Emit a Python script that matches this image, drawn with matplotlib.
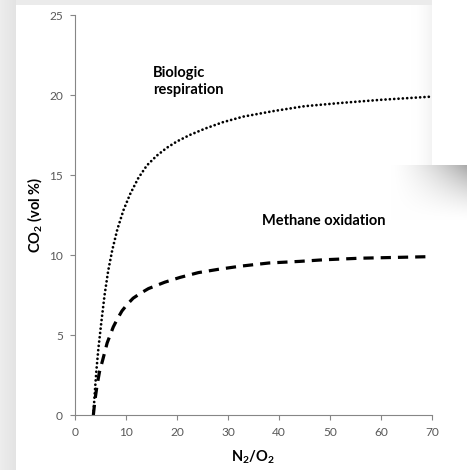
import numpy as np
import matplotlib
matplotlib.use("Agg")
import matplotlib.pyplot as plt

plt.rcParams['font.family'] = ['Lato', 'DejaVu Sans']
plt.rcParams['mathtext.fontset'] = 'custom'
plt.rcParams['mathtext.rm'] = 'Lato'
plt.rcParams['mathtext.bf'] = 'Lato:bold'
plt.rcParams['mathtext.it'] = 'Lato:italic'

# ---- data ----
resp_x = [3.6, 3.9, 4.2, 4.6, 5.2, 5.8, 6.5, 7.3, 8.3, 9.5, 10.8, 12.4, 14.1,
          16, 18, 20, 22.5, 25.5, 29, 33, 39, 45, 52, 60, 70]
resp_y = [0.0, 1.5, 2.8, 4.2, 5.9, 7.5, 9.0, 10.3, 11.6, 12.8, 13.8, 14.8, 15.6,
          16.2, 16.7, 17.1, 17.5, 17.9, 18.3, 18.65, 19.0, 19.3, 19.5, 19.7, 19.9]

meth_x = [3.6, 3.9, 4.3, 4.8, 5.4, 6.3, 7.5, 8.3, 9.2, 10.2, 11.4, 12.8, 14.4,
          16, 17.6, 20.6, 24.2, 28, 32.4, 38, 44, 48.7, 56, 63, 70]
meth_y = [0.0, 0.9, 1.8, 2.7, 3.4, 4.5, 5.5, 6.0, 6.5, 6.9, 7.3, 7.6, 7.9,
          8.1, 8.3, 8.6, 8.9, 9.1, 9.3, 9.5, 9.6, 9.7, 9.8, 9.85, 9.9]

x_ticks = [0, 10, 20, 30, 40, 50, 60, 70]
y_ticks = [0, 5, 10, 15, 20, 25]

W, H = 467, 470
fig = plt.figure(figsize=(W / 100, H / 100), dpi=100)

# ---- decorative slide background ----
yy, xx = np.mgrid[0:H, 0:W].astype(float)
img = np.ones((H, W))
left = xx < 16
img[left] = 0.93 - 0.04 * (xx[left] / 16)
top = (yy < 5) & (xx >= 16) & (xx < 432)
img[top] = 0.925
# shadow below the white box
sh = (yy >= 165) & (xx >= 390)
d = np.clip(1 - (yy - 165) / 55, 0, 1) * np.clip((xx - 390) / 77, 0, 1)
img[sh] = np.minimum(img[sh], 1 - 0.34 * d[sh] ** 1.5)
# faint shadow left of the box
ls = (yy < 165) & (xx >= 410) & (xx < 432)
d2 = np.clip((xx - 410) / 22, 0, 1)
img[ls] = np.minimum(img[ls], 1 - 0.05 * d2[ls] ** 2)
box = (yy < 165) & (xx >= 432)
img[box] = 1.0
bg = fig.add_axes([0, 0, 1, 1], zorder=-5)
bg.imshow(np.dstack([img, img, img]), aspect='auto', interpolation='bilinear')
bg.axis('off')

ax = fig.add_axes([75 / W, 1 - 415 / H, (432 - 75) / W, (415 - 15) / H])
ax.patch.set_alpha(0)

ax.plot(resp_x, resp_y, color='black', lw=2.0, linestyle=(0, (0.01, 1.55)),
        dash_capstyle='round', solid_capstyle='round')
ax.plot(meth_x, meth_y, color='black', lw=2.3, linestyle=(0, (3.2, 2.2)),
        dash_capstyle='butt')

ax.set_xlim(0, 70)
ax.set_ylim(0, 25)
ax.set_xticks(x_ticks)
ax.set_yticks(y_ticks)
for s in ['top', 'right']:
    ax.spines[s].set_visible(False)
for s in ['left', 'bottom']:
    ax.spines[s].set_color('#868686')
    ax.spines[s].set_linewidth(0.8)
ax.tick_params(direction='out', length=3.6, width=0.8, color='#868686',
               labelcolor='#595959', labelsize=8.6, pad=5)

ax.set_xlabel(r'N$_\mathbf{2}$/O$_\mathbf{2}$', fontsize=10.5, fontweight='bold',
              labelpad=8)
ax.set_ylabel(r'CO$_\mathbf{2}$ (vol %)', fontsize=10.5, fontweight='bold',
              labelpad=4)

ax.text(15.3, 21.8, 'Biologic\nrespiration', fontsize=10.5, fontweight='bold',
        ha='left', va='top', linespacing=1.25)
ax.text(36.7, 12.1, 'Methane oxidation', fontsize=10.5, fontweight='bold',
        ha='left', va='center')

fig.savefig('out.png', dpi=100)
